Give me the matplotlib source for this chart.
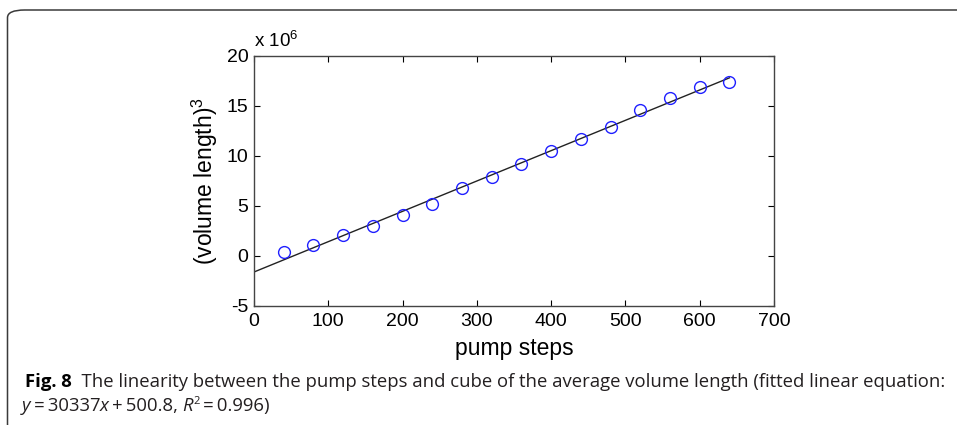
import matplotlib
matplotlib.use("Agg")
import matplotlib.pyplot as plt
import numpy as np
from matplotlib.patches import FancyBboxPatch
from matplotlib.ticker import FuncFormatter

# ---- data ----
pump_steps = [40, 80, 120, 160, 200, 240, 280, 320, 360, 400, 440, 480, 520, 560, 600, 640]
volume_cubed = [0.37e6, 1.07e6, 2.07e6, 3.0e6, 4.1e6, 5.23e6, 6.77e6, 7.87e6, 9.2e6, 10.5e6,
                11.67e6, 12.87e6, 14.63e6, 15.83e6, 16.93e6, 17.4e6]
fit_slope = 30337.0
fit_intercept = -1.6e6
fit_x = [0, 640]
x_ticks = [0, 100, 200, 300, 400, 500, 600, 700]
y_ticks = [-5e6, 0, 5e6, 10e6, 15e6, 20e6]

W, H = 957, 425
fig = plt.figure(figsize=(W / 100, H / 100), dpi=100)
plt.rcParams['font.family'] = ['Liberation Sans', 'DejaVu Sans']
plt.rcParams['mathtext.fontset'] = 'custom'
plt.rcParams['mathtext.rm'] = 'Liberation Sans'

def fx(px):
    return px / W

def fy(py):
    return 1 - py / H

# frame
frame = FancyBboxPatch((fx(7.5), fy(432)), fx(1000) - fx(7.5), fy(10) - fy(432),
                       boxstyle="round,pad=0,rounding_size=0.018", transform=fig.transFigure,
                       facecolor='none', edgecolor='#3a3a3a', linewidth=1.1, clip_on=False)
fig.patches.append(frame)

ax = fig.add_axes([fx(254), fy(306), fx(774) - fx(254), fy(56) - fy(306)])
ax.plot(pump_steps, volume_cubed, linestyle='none', marker='o', markersize=8.5,
        markerfacecolor='none', markeredgecolor='#2020ff', markeredgewidth=1.0, zorder=3)
fx_arr = np.array(fit_x, dtype=float)
ax.plot(fx_arr, fit_slope * fx_arr + fit_intercept, color='#222222', linewidth=1.0, zorder=2)

ax.set_xlim(0, 700)
ax.set_ylim(-5e6, 20e6)
ax.set_xticks(x_ticks)
ax.set_yticks(y_ticks)
ax.yaxis.set_major_formatter(FuncFormatter(lambda v, p: f"{v/1e6:g}"))
ax.tick_params(direction='in', top=True, right=True, length=4, width=0.8,
               labelsize=14, colors='#000000', pad=4)
ax.tick_params(axis='x', pad=5)
for s in ax.spines.values():
    s.set_color('#444444')
    s.set_linewidth(1.0)

ax.set_xlabel('pump steps', fontsize=16.5, labelpad=5)
ax.set_ylabel('(volume length)$^3$', fontsize=16.5, labelpad=5)

fig.text(fx(254), fy(47), 'x 10$^6$', fontsize=13.5, ha='left', va='baseline')

# caption
cap_font = 'Open Sans'
renderer = fig.canvas.get_renderer()

def draw_pieces(x0, y, pieces, size):
    x = x0
    for txt, style in pieces:
        kw = dict(fontsize=size, family=[cap_font, 'DejaVu Sans'], color='#231f20', va='baseline', ha='left')
        if style == 'b':
            kw['fontweight'] = 'bold'
            kw['color'] = '#000000'
        elif style == 'i':
            kw['fontstyle'] = 'italic'
        yy = y
        if style == 'sup':
            kw['fontsize'] = size * 0.6
            yy = y + 7 / H
        t = fig.text(x, yy, txt, **kw)
        bb = t.get_window_extent(renderer=renderer)
        x = x + bb.width / W

line1 = [('Fig. 8', 'b'), ('  The linearity between the pump steps and cube of the average volume length (fitted linear equation:', 'r')]
line2 = [('y', 'i'), ('\u2009=\u200930337', 'r'), ('x', 'i'), ('\u2009+\u2009500.8, ', 'r'), ('R', 'i'),
         ('2', 'sup'), ('\u2009=\u20090.996)', 'r')]

# fit caption font size to measured width of line 1
size = 12.0
tmp = [fig.text(0, 0, p[0], fontsize=size, family=[cap_font, 'DejaVu Sans'],
                fontweight=('bold' if p[1] == 'b' else 'normal')) for p in line1]
wsum = sum(t.get_window_extent(renderer=renderer).width for t in tmp)
for t in tmp:
    t.remove()
size = size * (940 - 25) / wsum

draw_pieces(fx(25), fy(387), line1, size)
draw_pieces(fx(22), fy(411), line2, size)

fig.savefig('out.png', dpi=100)
